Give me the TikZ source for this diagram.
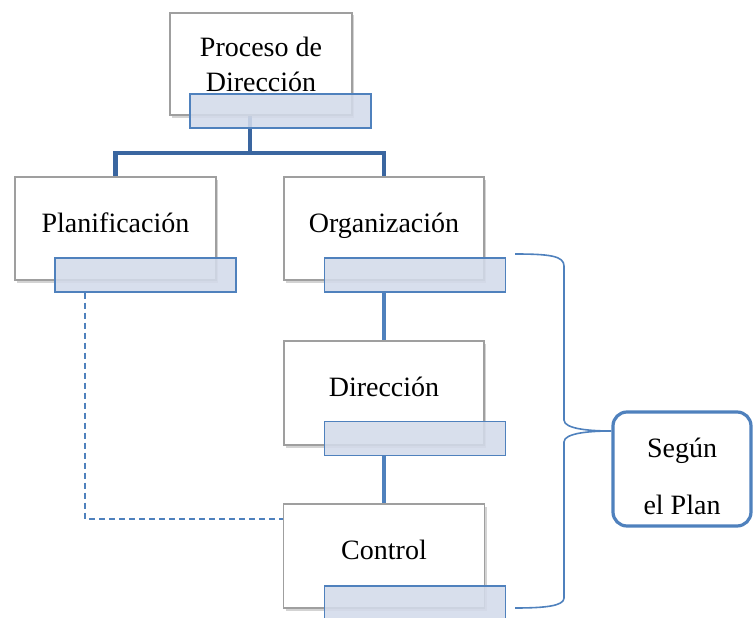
\documentclass[tikz,border=0pt]{standalone}
\usepackage{fontspec}
\setmainfont{Liberation Serif}
\usepackage{tikz}
\usetikzlibrary{shadows}
\usetikzlibrary{backgrounds}
\definecolor{barblue}{RGB}{79,129,189}
\definecolor{barfill}{RGB}{211,219,234}
\definecolor{linkblue}{RGB}{58,102,160}
\tikzset{
  procbox/.style={draw=gray!75, line width=1.1pt, fill=white, align=center, text depth=12pt,
    drop shadow={shadow xshift=2pt, shadow yshift=-2.5pt, opacity=.35}},
  tagbar/.style={draw=barblue, line width=1.1pt, fill=barfill, fill opacity=.88,
    minimum width=181pt, minimum height=34pt, inner sep=0pt}
}

\begin{document}
\begin{tikzpicture}[x=1pt,y=-1pt, font=\fontsize{28}{35}\selectfont]
\useasboundingbox (0,0) rectangle (753,618);
% cajas
\node[procbox, text depth=, minimum width=182pt, minimum height=102pt] (proc) at (261,64) {Proceso de\\Dirección};
\node[tagbar] (procbar) at (280.5,111) {};
\node[procbox, minimum width=201pt, minimum height=103pt] (plan) at (115.5,228.5) {Planificación};
\node[tagbar] (planbar) at (145.5,275) {};
\node[procbox, minimum width=200pt, minimum height=103pt] (org) at (384,228.5) {Organización};
\node[tagbar] (orgbar) at (415,275) {};
\node[procbox, minimum width=200pt, minimum height=104pt] (dir) at (384,393) {Dirección};
\node[tagbar] (dirbar) at (415,438.5) {};
\node[procbox, minimum width=201pt, minimum height=104pt] (ctrl) at (384,556) {Control};
\node[tagbar] (ctrlbar) at (415,603) {};
\node[draw=barblue, line width=3.2pt, rounded corners=14pt, fill=white,
  minimum width=138pt, minimum height=114pt] (plan2) at (682,469) {};
\node[align=center, font=\fontsize{28}{57}\selectfont] (plan2txt) at (682,476) {Según\\el Plan};

% uniones
\begin{pgfonlayer}{background}
\coordinate (split) at (250,153);
\draw[linkblue, line width=4.5pt] (split |- procbar.center) -- (split);
\draw[linkblue, line width=4.5pt] (plan.north) |- (split) -| (org.north);
\end{pgfonlayer}
\draw[barblue, line width=4pt] (org.south |- orgbar.south) -- (dir.north);
\draw[barblue, line width=4pt] (dir.south |- dirbar.south) -- (ctrl.north);
\draw[barblue, line width=2pt, dash pattern=on 6pt off 4pt]
  ([xshift=31pt]planbar.south west) |- ([yshift=37pt]ctrl.west);

% llave
\coordinate (bt) at (515,254);
\coordinate (bb) at (515,608);
\coordinate (tip) at ([yshift=38pt]plan2.west);
\draw[barblue, line width=1.6pt] (bt) .. controls (550,254) and (564,256) .. (564,266)
  -- (564,420) .. controls (564,429) and (590,431) .. (tip)
  .. controls (590,431) and (564,433) .. (564,442)
  -- (564,598) .. controls (564,606) and (545,608) .. (bb);
\end{tikzpicture}
\end{document}
